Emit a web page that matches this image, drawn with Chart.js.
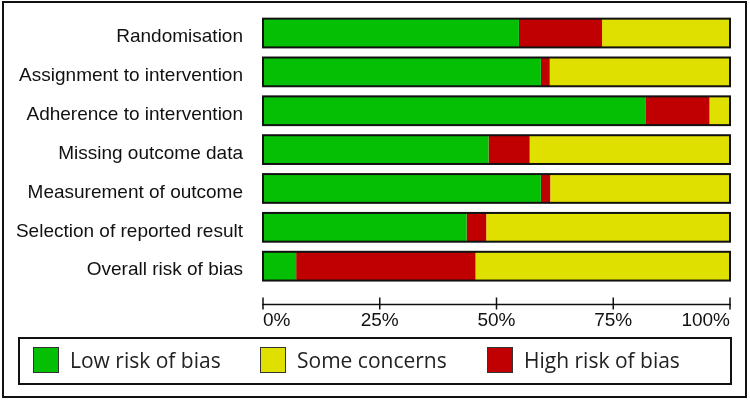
<!DOCTYPE html>
<html>
<head>
<meta charset="utf-8">
<script src="https://cdn.jsdelivr.net/npm/chart.js@4.4.0/dist/chart.umd.min.js"></script>
<style>
  body{ margin:0; background:#fff; }
  #wrap{ position:relative; width:750px; height:402px; background:#fff; overflow:hidden; }
  #cornice{ position:absolute; left:2px; top:1px; width:741px; height:393px; border:2px solid #111; }
  #grafico{ position:absolute; left:0; top:0; }
  #legenda{ position:absolute; left:18px; top:337px; width:710px; height:44px; border:2px solid #111;
            font-family:"Open Sans", sans-serif; font-size:21px; color:#222; }
  .voce{ position:absolute; top:8px; height:26px; display:flex; align-items:center; white-space:nowrap; }
  .quad{ width:24px; height:24px; border:1px solid #333; margin-right:11px; }
</style>
</head>
<body>
<div id="wrap">
  <div id="cornice"></div>
  <canvas id="grafico" width="750" height="402"></canvas>
  <div id="legenda"></div>
</div>
<script>
// dati (percentuali per dominio)
const categorie = ['Randomisation', 'Assignment to intervention', 'Adherence to intervention',
  'Missing outcome data', 'Measurement of outcome', 'Selection of reported result', 'Overall risk of bias'];
const basso = [54.8, 59.5, 82.0, 48.3, 59.5, 43.6, 7.1];   // Low risk of bias
const alto  = [17.8, 1.9, 13.6, 8.8, 2.0, 4.2, 38.4];     // High risk of bias
const dubbi = [27.4, 38.6, 4.4, 42.9, 38.5, 52.2, 54.5];  // Some concerns
const tickX = [0, 25, 50, 75, 100]; // tacche asse x

const colori = { basso:'#04BF04', dubbi:'#E0E000', alto:'#C00000' };
const font = { family:'"Liberation Sans", Arial, sans-serif', size:19 };

// legenda html (ordine diverso dallo stack)
const voci = [['Low risk of bias', colori.basso], ['Some concerns', colori.dubbi], ['High risk of bias', colori.alto]];
const leg = document.getElementById('legenda');
voci.forEach(([testo, col], i) => {
  const d = document.createElement('div');
  d.className = 'voce';
  d.style.left = (13 + i*227) + 'px';
  const q = document.createElement('div');
  q.className = 'quad';
  q.style.background = col;
  const t = document.createElement('span');
  t.textContent = testo;
  d.append(q, t);
  leg.appendChild(d);
});

// cornice nera attorno a ogni barra intera
const bordoPlugin = {
  id:'bordo',
  afterDatasetsDraw(chart){
    const { ctx, scales:{ x } } = chart;
    const x0 = x.getPixelForValue(0), x1 = x.getPixelForValue(100);
    ctx.save();
    ctx.strokeStyle = '#111';
    ctx.lineWidth = 2;
    chart.getDatasetMeta(0).data.forEach(b => {
      ctx.strokeRect(x0, b.y - b.height/2, x1 - x0, b.height);
    });
    ctx.restore();
  }
};

// linea dell'asse x staccata dalle barre, con tacche che la attraversano
const assePlugin = {
  id:'asse',
  afterDraw(chart){
    const { ctx, scales:{ x }, chartArea } = chart;
    const y0 = chartArea.bottom + 19;
    ctx.save();
    ctx.strokeStyle = '#111';
    ctx.lineWidth = 1.5;
    ctx.beginPath();
    ctx.moveTo(x.getPixelForValue(0) - 1, y0);
    ctx.lineTo(x.getPixelForValue(100) + 1, y0);
    tickX.forEach(v => {
      const px = x.getPixelForValue(v);
      ctx.moveTo(px, y0 - 7);
      ctx.lineTo(px, y0 + 5);
    });
    ctx.stroke();
    ctx.restore();
  }
};

// niente padding automatico delle scale (lo gestisco io)
const azzeraPadding = s => { s.paddingTop = 0; s.paddingBottom = 0; s.paddingLeft = 0; s.paddingRight = 0; };

new Chart(document.getElementById('grafico'), {
  type:'bar',
  data:{
    labels: categorie,
    datasets:[
      { label:'Low risk of bias',  data:basso, backgroundColor:colori.basso },
      { label:'High risk of bias', data:alto,  backgroundColor:colori.alto },
      { label:'Some concerns',     data:dubbi, backgroundColor:colori.dubbi }
    ]
  },
  options:{
    indexAxis:'y', responsive:false, animation:false,
    layout:{ autoPadding:false, padding:{ top:13.6, right:20, left:0, bottom:0 } },
    plugins:{ legend:{ display:false }, tooltip:{ enabled:false } },
    datasets:{ bar:{ categoryPercentage:1, barPercentage:0.74, borderWidth:0 } },
    scales:{
      x:{
        stacked:true, min:0, max:100,
        afterBuildTicks: s => { s.ticks = tickX.map(v => ({ value:v })); },
        afterFit: s => { s.height = 116.4; azzeraPadding(s); },
        grid:{ display:false, drawTicks:false }, border:{ display:false },
        ticks:{ align:'inner', padding:24, color:'#111', font, callback: v => v + '%' }
      },
      y:{
        stacked:true,
        afterFit: s => { s.width = 263; azzeraPadding(s); },
        grid:{ display:false, drawTicks:false }, border:{ display:false },
        ticks:{ padding:20, labelOffset:4, color:'#111', font }
      }
    }
  },
  plugins:[bordoPlugin, assePlugin]
});
</script>
</body>
</html>
